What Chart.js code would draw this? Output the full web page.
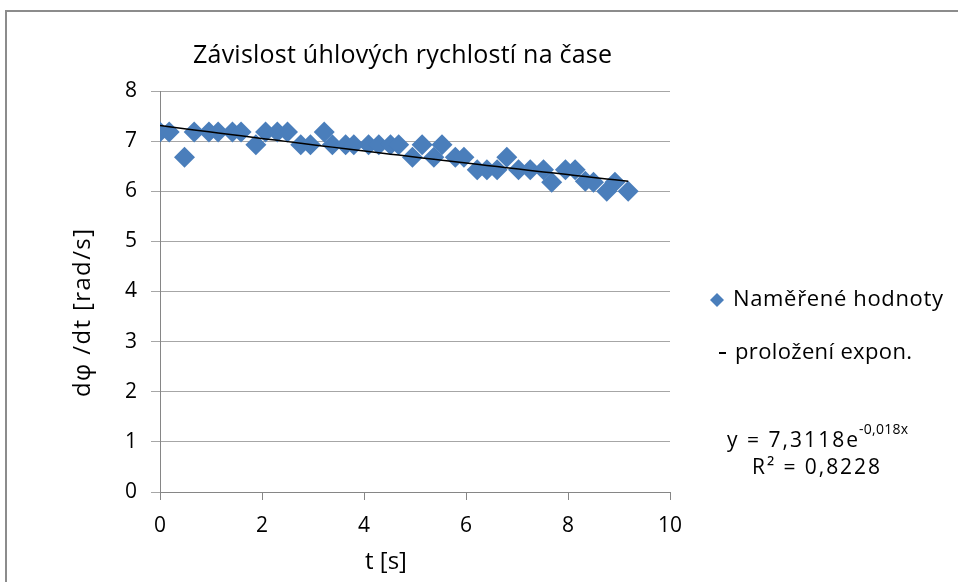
<!DOCTYPE html>
<html lang="cs">
<head>
<meta charset="UTF-8">
<title>Závislost úhlových rychlostí na čase</title>
<script src="https://cdn.jsdelivr.net/npm/chart.js@4"></script>
<style>
  html, body { margin: 0; padding: 0; background: #fff; }
  #graf { display: block; }
</style>
</head>
<body>
<canvas id="graf" width="958" height="582"></canvas>
<script>
// naměřené hodnoty: čas [s] a úhlová rychlost dφ/dt [rad/s]
const casy = [0, 0.18, 0.48, 0.67, 0.96, 1.14, 1.42, 1.59, 1.88, 2.07, 2.30, 2.50,
  2.76, 2.95, 3.22, 3.38, 3.64, 3.80, 4.09, 4.29, 4.52, 4.68, 4.95, 5.14, 5.37,
  5.53, 5.79, 5.96, 6.22, 6.41, 6.61, 6.80, 7.03, 7.26, 7.52, 7.68, 7.95, 8.14,
  8.34, 8.50, 8.76, 8.92, 9.18];
const rychlosti = [7.18, 7.18, 6.68, 7.18, 7.18, 7.18, 7.18, 7.18, 6.93, 7.18, 7.18, 7.18,
  6.93, 6.93, 7.18, 6.93, 6.93, 6.93, 6.93, 6.93, 6.93, 6.93, 6.68, 6.93, 6.68,
  6.93, 6.68, 6.68, 6.43, 6.43, 6.43, 6.68, 6.43, 6.43, 6.43, 6.18, 6.43, 6.43,
  6.20, 6.18, 6.00, 6.18, 6.00];

// exponenciální proložení y = a·e^(b·x)
const fitA = 7.3118;
const fitB = -0.018;
const fitR2 = '0,8228';

const osaX = { min: 0, max: 10, krok: 2 };
const osaY = { min: 0, max: 8, krok: 1 };

const pismo = '"Open Sans", sans-serif';
const modra = '#4a7ebb';

const body = casy.map((t, i) => ({ x: t, y: rychlosti[i] }));
const trend = casy.map(t => ({ x: t, y: fitA * Math.exp(fitB * t) }));

// text od x0 roztažený mezerami mezi znaky na danou šířku
function rozpal(c, s, x0, y, sirka) {
  c.letterSpacing = '0px';
  const w = c.measureText(s).width;
  const n = [...s].length;
  const ls = Math.max(0, (sirka - w) / (n - 1));
  c.letterSpacing = ls + 'px';
  c.textAlign = 'left';
  c.fillText(s, x0, y);
  c.letterSpacing = '0px';
}

// popisky, legenda a rámeček kreslené přímo na canvas
const popisky = {
  id: 'popisky',
  afterDraw(chart) {
    const c = chart.ctx;
    c.save();
    c.strokeStyle = '#8c8c8c';
    c.lineWidth = 2;
    c.beginPath();
    c.moveTo(6, 582);
    c.lineTo(6, 11);
    c.lineTo(958, 11);
    c.stroke();

    c.fillStyle = '#000';
    c.textBaseline = 'middle';
    c.font = '25px ' + pismo;
    rozpal(c, 'Závislost úhlových rychlostí na čase', 193, 56, 419);
    c.font = '24px ' + pismo;
    rozpal(c, 't [s]', 365, 562, 40);

    c.save();
    c.translate(83, 397);
    c.rotate(-Math.PI / 2);
    c.font = '24px ' + pismo;
    rozpal(c, 'dφ /dt [rad/s]', 0, 0, 168);
    c.restore();

    // legenda
    c.fillStyle = modra;
    c.beginPath();
    c.moveTo(710, 300);
    c.lineTo(717, 293);
    c.lineTo(724, 300);
    c.lineTo(717, 307);
    c.closePath();
    c.fill();
    c.fillStyle = '#000';
    c.font = '22px ' + pismo;
    rozpal(c, 'Naměřené hodnoty', 733, 300, 210);

    c.strokeStyle = '#000';
    c.lineWidth = 2;
    c.beginPath();
    c.moveTo(719, 353);
    c.lineTo(726, 353);
    c.stroke();
    rozpal(c, 'proložení expon.', 735, 353, 177);

    // rovnice regrese
    c.textBaseline = 'alphabetic';
    c.font = '21px ' + pismo;
    rozpal(c, 'y = ' + String(fitA).replace('.', ',') + 'e', 727, 447, 131);
    c.font = '14px ' + pismo;
    rozpal(c, String(fitB).replace('.', ',') + 'x', 859, 434, 49);
    c.font = '21px ' + pismo;
    rozpal(c, 'R² = ' + fitR2, 752, 474, 128);
    c.restore();
  }
};

new Chart(document.getElementById('graf'), {
  type: 'scatter',
  data: {
    datasets: [{
      label: 'Naměřené hodnoty',
      data: body,
      pointStyle: 'rectRot',
      pointRadius: 10.5,
      pointHoverRadius: 10.5,
      backgroundColor: modra,
      borderColor: modra,
      borderWidth: 0,
      order: 2
    }, {
      label: 'proložení expon.',
      type: 'line',
      data: trend,
      borderColor: '#000',
      borderWidth: 1.5,
      pointRadius: 0,
      fill: false,
      order: 1
    }]
  },
  options: {
    responsive: false,
    animation: false,
    events: [],
    layout: { padding: { top: 91, right: 288, bottom: 0, left: 0 } },
    plugins: {
      legend: { display: false },
      title: { display: false },
      tooltip: { enabled: false }
    },
    scales: {
      x: {
        type: 'linear',
        min: osaX.min,
        max: osaX.max,
        afterFit(scale) { scale.height = 90; },
        ticks: {
          stepSize: osaX.krok,
          padding: 13,
          color: '#000',
          font: { family: pismo, size: 21 }
        },
        grid: { drawOnChartArea: false, tickLength: 8, color: '#868686' },
        border: { color: '#868686' }
      },
      y: {
        min: osaY.min,
        max: osaY.max,
        afterFit(scale) { scale.width = 160; },
        ticks: {
          stepSize: osaY.krok,
          padding: 14,
          color: '#000',
          font: { family: pismo, size: 21 }
        },
        grid: { color: '#a6a6a6', tickLength: 9 },
        border: { color: '#868686' }
      }
    }
  },
  plugins: [popisky]
});
</script>
</body>
</html>
